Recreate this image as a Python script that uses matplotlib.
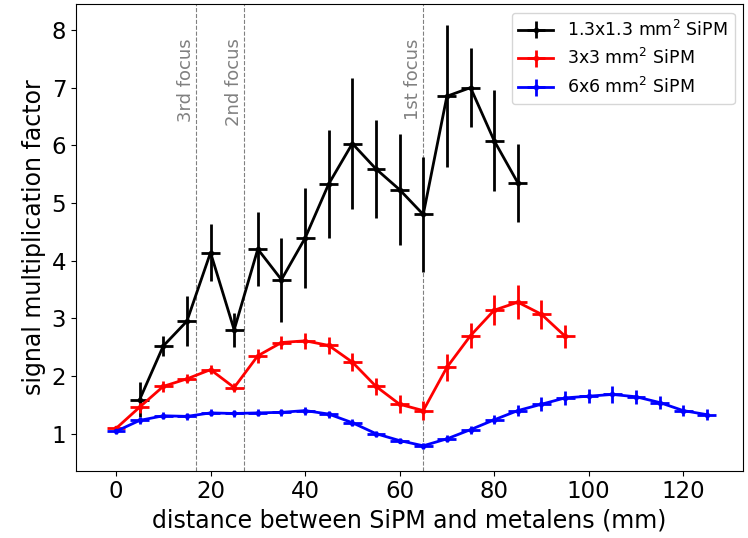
import matplotlib
matplotlib.use("Agg")
import matplotlib.pyplot as plt

# distances (mm)
x_small = [5, 10, 15, 20, 25, 30, 35, 40, 45, 50, 55, 60, 65, 70, 75, 80, 85]
x_mid = [0, 5, 10, 15, 20, 25, 30, 35, 40, 45, 50, 55, 60, 65, 70, 75, 80, 85, 90, 95]
x_big = [0, 5, 10, 15, 20, 25, 30, 35, 40, 45, 50, 55, 60, 65,
         70, 75, 80, 85, 90, 95, 100, 105, 110, 115, 120, 125]

# 1.3x1.3 mm2 SiPM
y_small = [1.59, 2.52, 2.95, 4.14, 2.80, 4.20, 3.67, 4.39, 5.33, 6.03, 5.59, 5.23,
           4.80, 6.85, 7.00, 6.08, 5.35]
e_small = [0.30, 0.17, 0.43, 0.50, 0.30, 0.64, 0.73, 0.87, 0.94, 1.14, 0.85, 0.96,
           1.00, 1.23, 0.68, 0.88, 0.68]

# 3x3 mm2 SiPM
y_mid = [1.09, 1.46, 1.82, 1.95, 2.11, 1.80, 2.35, 2.58, 2.61, 2.53, 2.24, 1.82,
         1.51, 1.40, 2.15, 2.70, 3.14, 3.28, 3.07, 2.69]
e_mid = [0.05, 0.10, 0.10, 0.08, 0.08, 0.08, 0.12, 0.12, 0.14, 0.15, 0.15, 0.15,
         0.16, 0.16, 0.23, 0.22, 0.26, 0.30, 0.25, 0.20]

# 6x6 mm2 SiPM
y_big = [1.04, 1.23, 1.31, 1.30, 1.36, 1.35, 1.36, 1.37, 1.40, 1.34, 1.19, 1.00,
         0.88, 0.79, 0.91, 1.07, 1.24, 1.40, 1.51, 1.62, 1.65, 1.68, 1.64, 1.54,
         1.40, 1.33]
e_big = [0.05, 0.06, 0.06, 0.06, 0.06, 0.06, 0.06, 0.06, 0.07, 0.06, 0.06, 0.05,
         0.05, 0.05, 0.06, 0.07, 0.08, 0.10, 0.12, 0.12, 0.12, 0.14, 0.12, 0.12,
         0.10, 0.10]

x_err = 2

focus_pos = [65, 27, 17]
focus_names = ["1st focus", "2nd focus", "3rd focus"]

fig, ax = plt.subplots(figsize=(7.48, 5.38), dpi=100)

for f, name in zip(focus_pos, focus_names):
    ax.axvline(f, color="gray", ls="--", lw=0.8)
    ax.text(f - 0.2, 7.85, name, rotation=90, color="gray", fontsize=13,
            ha="right", va="top")

ax.errorbar(x_small, y_small, yerr=e_small, xerr=x_err, color="black", marker="o",
            ms=3, lw=2, elinewidth=2, label="1.3x1.3 mm$^2$ SiPM")
ax.errorbar(x_mid, y_mid, yerr=e_mid, xerr=x_err, color="red", marker="o",
            ms=3, lw=2, elinewidth=2, label="3x3 mm$^2$ SiPM")
ax.errorbar(x_big, y_big, yerr=e_big, xerr=x_err, color="blue", marker="o",
            ms=3, lw=2, elinewidth=2, label="6x6 mm$^2$ SiPM")

ax.set_xlim(-8.46, 132.7)
ax.set_ylim(0.358, 8.45)
ax.set_xlabel("distance between SiPM and metalens (mm)", fontsize=17)
ax.set_ylabel("signal multiplication factor", fontsize=17)
ax.tick_params(labelsize=16.5)
ax.legend(loc="upper right", fontsize=12.5)

plt.subplots_adjust(left=0.1016, right=0.9937, top=0.9926, bottom=0.1251)
plt.savefig("out.png")
